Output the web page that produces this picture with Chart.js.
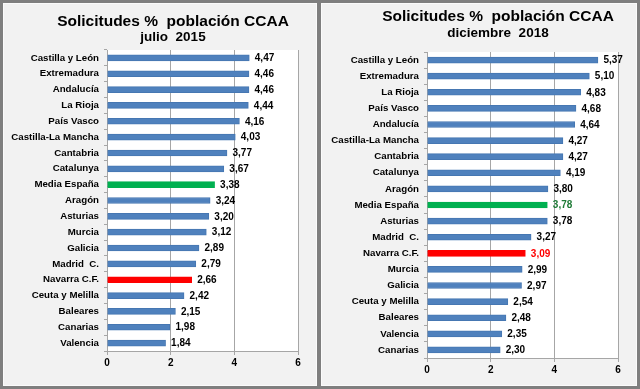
<!DOCTYPE html>
<html>
<head>
<meta charset="utf-8">
<script src="https://cdn.jsdelivr.net/npm/chart.js@4/dist/chart.umd.min.js"></script>
<style>
  body { margin: 0; background: #7f7f7f; width: 640px; height: 389px; overflow: hidden; }
  .panel { position: absolute; top: 3px; height: 383px; box-sizing: border-box; background: #f2f2f2; border: 1px solid #fbfbfb; }
  #p1 { left: 3px; width: 314px; }
  #p2 { left: 321px; width: 316px; }
  canvas { position: absolute; left: 0; top: 0; }
</style>
</head>
<body>
<div class="panel" id="p1"><canvas id="c1" width="312" height="381"></canvas></div>
<div class="panel" id="p2"><canvas id="c2" width="314" height="381"></canvas></div>
<script>
// julio 2015
const regions2015 = ['Castilla y León', 'Extremadura', 'Andalucía', 'La Rioja', 'País Vasco', 'Castilla-La Mancha', 'Cantabria', 'Catalunya', 'Media España', 'Aragón', 'Asturias', 'Murcia', 'Galicia', 'Madrid  C.', 'Navarra C.F.', 'Ceuta y Melilla', 'Baleares', 'Canarias', 'Valencia'];
const values2015 = [4.47, 4.46, 4.46, 4.44, 4.16, 4.03, 3.77, 3.67, 3.38, 3.24, 3.20, 3.12, 2.89, 2.79, 2.66, 2.42, 2.15, 1.98, 1.84];

// diciembre 2018
const regions2018 = ['Castilla y León', 'Extremadura', 'La Rioja', 'País Vasco', 'Andalucía', 'Castilla-La Mancha', 'Cantabria', 'Catalunya', 'Aragón', 'Media España', 'Asturias', 'Madrid  C.', 'Navarra C.F.', 'Murcia', 'Galicia', 'Ceuta y Melilla', 'Baleares', 'Valencia', 'Canarias'];
const values2018 = [5.37, 5.10, 4.83, 4.68, 4.64, 4.27, 4.27, 4.19, 3.80, 3.78, 3.78, 3.27, 3.09, 2.99, 2.97, 2.54, 2.48, 2.35, 2.30];

const xTicks = [0, 2, 4, 6];

const FONT = '"Liberation Sans", Arial, sans-serif';
const BLUE = '#4f81bd', GREEN = '#00b050', RED = '#ff0000';
const GRID = '#a6a6a6';

function barColor(name) {
  if (name === 'Media España') return GREEN;
  if (name.startsWith('Navarra')) return RED;
  return BLUE;
}

// white plot area
const plotBg = {
  id: 'plotBg',
  beforeDraw(chart) {
    const a = chart.chartArea, ctx = chart.ctx;
    ctx.save();
    ctx.fillStyle = '#ffffff';
    ctx.fillRect(a.left, a.top, a.right - a.left, a.bottom - a.top);
    ctx.restore();
  }
};

// two-line heading (the built-in title can't be offset from the canvas centre)
const heading = {
  id: 'heading',
  afterDraw(chart, args, o) {
    const ctx = chart.ctx;
    ctx.save();
    ctx.fillStyle = '#000';
    ctx.textAlign = 'center';
    ctx.textBaseline = 'middle';
    ctx.font = 'bold 15.5px ' + FONT;
    ctx.fillText(o.title, o.x, o.y1);
    ctx.font = 'bold 13.5px ' + FONT;
    ctx.fillText(o.sub, o.x, o.y2);
    ctx.restore();
  }
};

// value labels after each bar
const valueLabels = {
  id: 'valueLabels',
  afterDatasetsDraw(chart, args, opts) {
    const ctx = chart.ctx;
    const meta = chart.getDatasetMeta(0);
    const ds = chart.data.datasets[0];
    ctx.save();
    ctx.font = 'bold 10px ' + FONT;
    ctx.textBaseline = 'middle';
    ctx.textAlign = 'left';
    meta.data.forEach((bar, i) => {
      const name = chart.data.labels[i];
      ctx.fillStyle = (opts.colored && name === 'Media España') ? '#1d7a35'
        : (opts.colored && name.startsWith('Navarra')) ? RED : '#000';
      ctx.fillText(ds.data[i].toFixed(2).replace('.', ','), bar.x + 5.5, bar.y + 0.5);
    });
    ctx.restore();
  }
};

function makeChart(id, labels, values, sub, lay) {
  return new Chart(document.getElementById(id), {
    type: 'bar',
    data: {
      labels: labels,
      datasets: [{
        data: values,
        backgroundColor: labels.map(barColor),
        borderColor: labels.map(n => barColor(n) === BLUE ? '#4677b2' : barColor(n)),
        borderWidth: 1,
        barThickness: 6
      }]
    },
    options: {
      indexAxis: 'y',
      responsive: false,
      animation: false,
      devicePixelRatio: 1,
      layout: { padding: { left: 0, right: lay.right, top: lay.top, bottom: 0 } },
      plugins: {
        legend: { display: false },
        tooltip: { enabled: false },
        heading: { title: 'Solicitudes %  población CCAA', sub: sub, x: lay.cx, y1: lay.y1, y2: lay.y2 },
        valueLabels: { colored: lay.colored }
      },
      scales: {
        x: {
          min: 0,
          max: 6,
          afterBuildTicks(s) { s.ticks = xTicks.map(v => ({ value: v })); },
          grid: { color: GRID, tickLength: 4 },
          border: { color: GRID },
          ticks: { color: '#000', padding: 2, font: { family: FONT, size: 10, weight: 'bold' } },
          afterFit(s) { s.height = lay.xHeight; }
        },
        y: {
          grid: { drawOnChartArea: false, tickLength: 3, color: GRID, offset: true },
          border: { color: GRID },
          ticks: { color: '#000', padding: 5, autoSkip: false, font: { family: FONT, size: 9.7, weight: 'bold' } },
          afterFit(s) { s.width = lay.yWidth; }
        }
      }
    },
    plugins: [plotBg, valueLabels, heading]
  });
}

makeChart('c1', regions2015, values2015, 'julio  2015',
  { right: 18, top: 46, xHeight: 34, yWidth: 103, cx: 169, y1: 17.5, y2: 33.5, colored: false });
makeChart('c2', regions2018, values2018, 'diciembre  2018',
  { right: 18, top: 48, xHeight: 27, yWidth: 105, cx: 176, y1: 13, y2: 29.5, colored: true });
</script>
</body>
</html>
